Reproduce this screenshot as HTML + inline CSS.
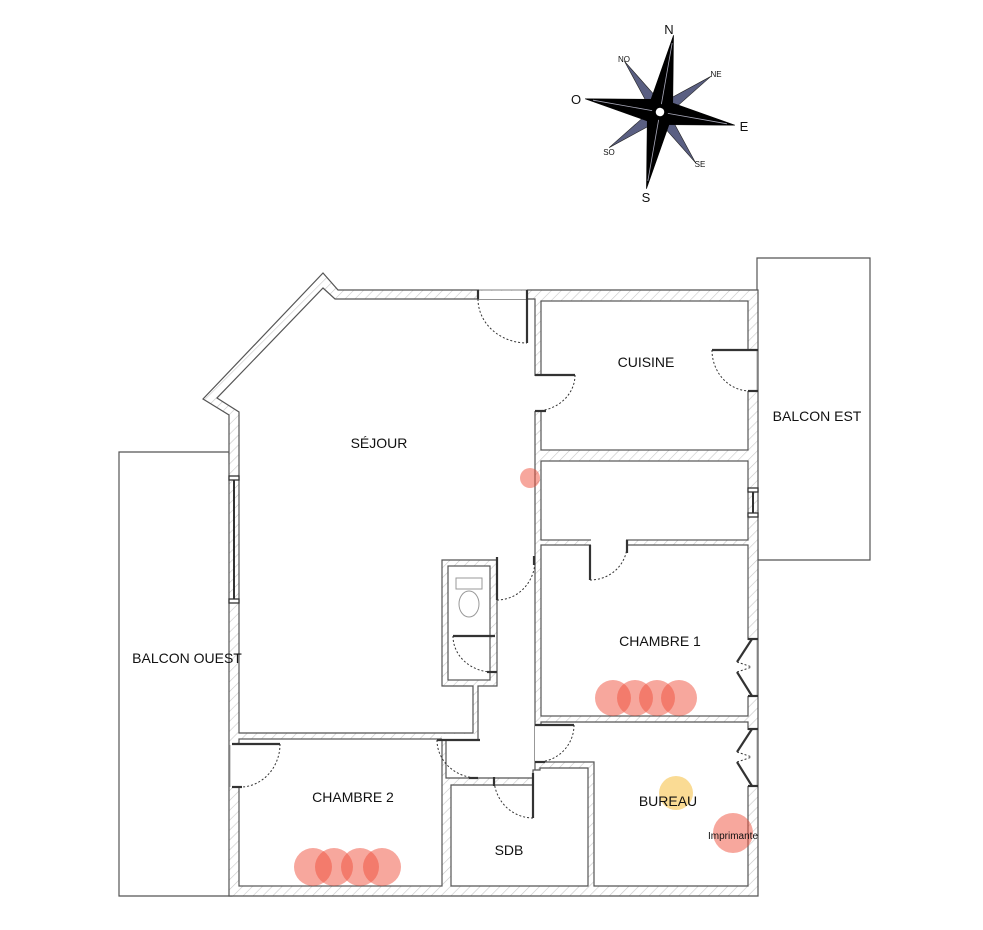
<!DOCTYPE html>
<html><head><meta charset="utf-8"><style>
html,body{margin:0;padding:0;background:#fff;}
svg{display:block;}
text{font-family:"Liberation Sans",Arial,sans-serif;fill:#111;}
</style></head><body>
<svg width="983" height="930" viewBox="0 0 983 930" xmlns="http://www.w3.org/2000/svg">
<defs>
<pattern id="h" width="7" height="7" patternUnits="userSpaceOnUse" patternTransform="rotate(45)">
<rect width="7" height="7" fill="#fff"/><line x1="0" y1="0" x2="0" y2="7" stroke="#c8c8c8" stroke-width="1.2"/>
</pattern>
</defs>

<!-- compass -->
<g transform="translate(660,112) rotate(10)">
<g fill="#5a5f82" stroke="#222" stroke-width="0.6">
<polygon points="-9,0 -44,-44 0,-9"/>
<polygon points="9,0 44,-44 0,-9"/>
<polygon points="-9,0 -44,44 0,9"/>
<polygon points="9,0 44,44 0,9"/>
</g>
<g fill="#000" stroke="#000" stroke-width="0.6">
<polygon points="0,-78 11,-11 0,0 -11,-11"/>
<polygon points="0,78 11,11 0,0 -11,11"/>
<polygon points="-76,0 -11,-11 0,0 -11,11"/>
<polygon points="76,0 11,-11 0,0 11,11"/>
</g>
<g stroke="#aab" stroke-width="0.8">
<line x1="0" y1="-70" x2="0" y2="-8"/><line x1="0" y1="70" x2="0" y2="8"/>
<line x1="-68" y1="0" x2="-8" y2="0"/><line x1="68" y1="0" x2="8" y2="0"/>
</g>
<circle r="5" fill="#fff" stroke="#000" stroke-width="1.5"/>
</g>
<text x="669" y="34" font-size="13" text-anchor="middle">N</text>
<text x="646" y="202" font-size="13" text-anchor="middle">S</text>
<text x="576" y="104" font-size="13" text-anchor="middle">O</text>
<text x="744" y="131" font-size="13" text-anchor="middle">E</text>
<text x="624" y="62" font-size="8" text-anchor="middle">NO</text>
<text x="716" y="77" font-size="8" text-anchor="middle">NE</text>
<text x="609" y="155" font-size="8" text-anchor="middle">SO</text>
<text x="700" y="167" font-size="8" text-anchor="middle">SE</text>

<!-- balconies -->
<polygon points="757,290 757,258 870,258 870,560 758,560" fill="#fff" stroke="#555" stroke-width="1.2"/>
<polygon points="229,452 119,452 119,896 232,896" fill="#fff" stroke="#555" stroke-width="1.2"/>

<!-- building hatched -->
<polygon points="229,896 229,415 203,399 323,273 338,290 758,290 758,896" fill="url(#h)" stroke="#555" stroke-width="1.2"/>

<g fill="#fff" stroke="#555" stroke-width="1.2">
<polygon points="239,733 239,412 217,398 323,288 335,299 535,299 535,778 446,778 446,740 478,740 478,686 497,686 497,560 442,560 442,686 473,686 473,733"/>
<rect x="448" y="566" width="42" height="114"/>
<rect x="541" y="301" width="207" height="149"/>
<rect x="541" y="461" width="207" height="79"/>
<rect x="541" y="545" width="207" height="171"/>
<polygon points="541,722 748,722 748,886 594,886 594,762 541,762"/>
<rect x="239" y="739" width="203" height="147"/>
<polygon points="451,785 533,785 533,770 540,770 540,768 588,768 588,886 451,886"/>
</g>
<rect x="456" y="578" width="26" height="11" fill="none" stroke="#999"/>
<ellipse cx="469" cy="604" rx="10" ry="13" fill="none" stroke="#999"/>

<g fill="#fff">
<rect x="479" y="291" width="48" height="8"/>
<rect x="530" y="376" width="12" height="35"/>
<rect x="747" y="351" width="10" height="40"/>
<rect x="591" y="539" width="35" height="7"/>
<rect x="230" y="745" width="10" height="42"/>
<rect x="442" y="734" width="32" height="6"/>
<rect x="535" y="726" width="7" height="36"/>
<rect x="747" y="640" width="10" height="56"/>
<rect x="747" y="730" width="10" height="56"/>
</g>
<g stroke="#aaa" stroke-width="1">
<line x1="479" y1="290" x2="527" y2="290"/>
<line x1="757" y1="351" x2="757" y2="391"/>
<line x1="230" y1="745" x2="230" y2="787"/>
<line x1="757" y1="640" x2="757" y2="696"/>
<line x1="757" y1="730" x2="757" y2="786"/>
</g>

<g stroke="#333" stroke-width="2.2" fill="none">
<line x1="527" y1="290" x2="527" y2="343"/>
<line x1="478" y1="290" x2="478" y2="299"/>
<line x1="535" y1="375" x2="575" y2="375"/>
<line x1="535" y1="411" x2="546" y2="411"/>
<line x1="712" y1="350" x2="758" y2="350"/>
<line x1="748" y1="391" x2="758" y2="391"/>
<line x1="590" y1="545" x2="590" y2="580"/>
<line x1="627" y1="540" x2="627" y2="553"/>
<line x1="497" y1="557" x2="497" y2="600"/>
<line x1="534" y1="556" x2="534" y2="565"/>
<line x1="453" y1="636" x2="495" y2="636"/>
<line x1="487" y1="672" x2="497" y2="672"/>
<line x1="232" y1="744" x2="280" y2="744"/>
<line x1="232" y1="787" x2="242" y2="787"/>
<line x1="437" y1="740" x2="480" y2="740"/>
<line x1="469" y1="778" x2="478" y2="778"/>
<line x1="535" y1="725" x2="574" y2="725"/>
<line x1="535" y1="762" x2="545" y2="762"/>
<line x1="533" y1="773" x2="533" y2="818"/>
<line x1="494" y1="777" x2="494" y2="786"/>
<line x1="752" y1="639" x2="737" y2="662"/>
<line x1="737" y1="672" x2="752" y2="696"/>
<line x1="752" y1="729" x2="737" y2="752"/>
<line x1="737" y1="762" x2="752" y2="786"/>
<line x1="748" y1="639" x2="758" y2="639"/><line x1="748" y1="696" x2="758" y2="696"/>
<line x1="748" y1="729" x2="758" y2="729"/><line x1="748" y1="786" x2="758" y2="786"/>
</g>
<g stroke="#333" stroke-width="1" fill="none" stroke-dasharray="2,2">
<path d="M478,299 A49,44 0 0 0 527,343"/>
<path d="M575,375 A40,36 0 0 1 537,411"/>
<path d="M712,350 A38,41 0 0 0 750,391"/>
<path d="M590,580 A37,35 0 0 0 627,545"/>
<path d="M497,600 A38,40 0 0 0 535,562"/>
<path d="M453,636 A40,36 0 0 0 490,672"/>
<path d="M280,744 A40,43 0 0 1 242,787"/>
<path d="M437,740 A41,38 0 0 0 478,778"/>
<path d="M574,725 A37,37 0 0 1 537,762"/>
<path d="M533,818 A39,40 0 0 1 494,778"/>
<path d="M737,662 L752,667 M737,672 L752,667"/>
<path d="M737,752 L752,757 M737,762 L752,757"/>
</g>

<g fill="#fff" stroke="#333" stroke-width="1.3">
<line x1="234" y1="478" x2="234" y2="601" stroke-width="2"/>
<rect x="229" y="476" width="10" height="4"/>
<rect x="229" y="599" width="10" height="4"/>
<line x1="753" y1="490" x2="753" y2="516" stroke-width="2"/>
<rect x="748" y="488" width="10" height="4"/>
<rect x="748" y="513" width="10" height="4"/>
</g>

<g fill="rgba(240,80,60,0.5)">
<circle cx="530" cy="478" r="10"/>
<circle cx="613" cy="698" r="18"/><circle cx="635" cy="698" r="18"/><circle cx="657" cy="698" r="18"/><circle cx="679" cy="698" r="18"/>
<circle cx="313" cy="867" r="19"/><circle cx="334" cy="867" r="19"/><circle cx="360" cy="867" r="19"/><circle cx="382" cy="867" r="19"/>
<circle cx="733" cy="833" r="20"/>
</g>
<circle cx="676" cy="793" r="17" fill="rgba(245,190,60,0.55)"/>

<g font-size="14" text-anchor="middle">
<text x="379" y="448">SÉJOUR</text>
<text x="646" y="367">CUISINE</text>
<text x="817" y="421">BALCON EST</text>
<text x="187" y="663">BALCON OUEST</text>
<text x="660" y="646">CHAMBRE 1</text>
<text x="353" y="802">CHAMBRE 2</text>
<text x="509" y="855">SDB</text>
<text x="668" y="806">BUREAU</text>
</g>
<text x="733" y="839" font-size="10" text-anchor="middle">Imprimante</text>
</svg>
</body></html>
